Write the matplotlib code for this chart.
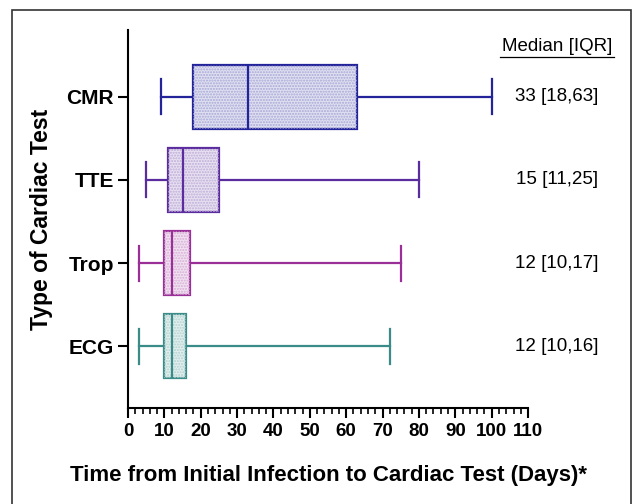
import matplotlib.pyplot as plt
from matplotlib.patches import PathPatch, Rectangle
from matplotlib.colors import to_rgb
import numpy as np

plt.rcParams['font.family'] = ['Liberation Sans', 'DejaVu Sans']

# Box plot summaries (days)
tests = ['ECG', 'Trop', 'TTE', 'CMR']
whislo = [3, 3, 5, 9]
q1 = [10, 10, 11, 18]
med = [12, 12, 15, 33]
q3 = [16, 17, 25, 63]
whishi = [72, 75, 80, 100]
summary = ['12 [10,16]', '12 [10,17]', '15 [11,25]', '33 [18,63]']
colors = ['#3a8c88', '#9a2f98', '#5a2c9e', '#23239a']

fig = plt.figure(figsize=(6.33, 5.04), dpi=100)
ax = fig.add_axes([0.2022, 0.1905, 0.632, 0.75])

# frame around the whole figure
fig.patches.append(Rectangle((0.019, -0.05), 0.978, 1.03, transform=fig.transFigure,
                             fill=False, edgecolor='#333333', lw=1.2))

stats = []
for i in range(len(tests)):
    stats.append(dict(label=tests[i], whislo=whislo[i], q1=q1[i], med=med[i],
                      q3=q3[i], whishi=whishi[i], fliers=[]))

pos = np.arange(len(tests))
bp = ax.bxp(stats, positions=pos, vert=False, widths=0.77, capwidths=0.42,
            patch_artist=True, showfliers=False, manage_ticks=False)

for i, c in enumerate(colors):
    rgb = np.array(to_rgb(c))
    light = 1 - 0.14 * (1 - rgb)
    box = bp['boxes'][i]
    box.set_facecolor(light)
    box.set_edgecolor(c)
    box.set_linewidth(1.6)
    hatch = PathPatch(box.get_path(), facecolor='none', edgecolor=1 - 0.4 * (1 - rgb),
                      lw=0, hatch='......', zorder=box.get_zorder() + 0.1)
    ax.add_patch(hatch)
    bp['medians'][i].set_color(c)
    bp['medians'][i].set_linewidth(1.6)
    bp['medians'][i].set_zorder(3)
    for w in bp['whiskers'][2 * i:2 * i + 2]:
        w.set_color(c)
        w.set_linewidth(1.6)
    for cap in bp['caps'][2 * i:2 * i + 2]:
        cap.set_color(c)
        cap.set_linewidth(1.6)

ax.set_xlim(0, 110)
ax.set_ylim(-0.74, 3.8)
ax.set_xticks(np.arange(0, 111, 10))
ax.set_xticks(np.arange(0, 111, 2), minor=True)
ax.set_yticks(pos)
ax.set_yticklabels(tests, fontsize=15, fontweight='bold')
for lbl in ax.get_xticklabels():
    lbl.set_fontsize(13.5)
    lbl.set_fontweight('bold')
ax.tick_params(axis='x', which='major', length=7, width=1.5, pad=4)
ax.tick_params(axis='x', which='minor', length=4, width=1.2)
ax.tick_params(axis='y', which='major', length=7, width=1.5, pad=3)

for s in ['top', 'right']:
    ax.spines[s].set_visible(False)
for s in ['left', 'bottom']:
    ax.spines[s].set_linewidth(1.5)

ax.set_ylabel('Type of Cardiac Test', fontsize=16.5, fontweight='bold', labelpad=10)
ax.set_xlabel('Time from Initial Infection to Cardiac Test (Days)*', fontsize=16,
              fontweight='bold', labelpad=18)

# Median [IQR] column
ax.text(1.0725, 0.955, 'Median [IQR]', transform=ax.transAxes, ha='center',
        va='center', fontsize=13.5, clip_on=False)
ax.plot([0.93, 1.215], [0.928, 0.928], transform=ax.transAxes, color='black',
        lw=0.9, clip_on=False)
for i, t in enumerate(summary):
    ax.text(118, pos[i], t, ha='center', va='center', fontsize=13.5, clip_on=False)

plt.savefig('out.png', dpi=100)
